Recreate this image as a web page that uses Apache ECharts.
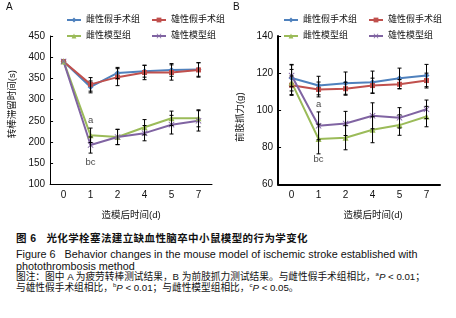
<!DOCTYPE html>
<html>
<head>
<meta charset="utf-8">
<script src="https://cdn.jsdelivr.net/npm/echarts@6/dist/echarts.min.js"></script>
<style>
  body { margin: 0; background: #fff; width: 456px; height: 318px; position: relative; overflow: hidden; }
  #chart-a { position: absolute; left: 0; top: 0; width: 228px; height: 225px; }
  #chart-b { position: absolute; left: 228px; top: 0; width: 228px; height: 225px; }
  .cap { position: absolute; left: 16px; white-space: nowrap; color: #111; line-height: 12px;
         font-family: Arial, "Liberation Sans", "Noto Sans CJK SC", sans-serif; }
  .cap sup { font-size: 6px; vertical-align: 4px; line-height: 0; }
</style>
</head>
<body>
<div id="chart-a"></div>
<div id="chart-b"></div>
<div class="cap" style="top:232px;font-size:10.5px;font-weight:bold;letter-spacing:0.4px">图 6&nbsp;&nbsp;&nbsp;光化学栓塞法建立缺血性脑卒中小鼠模型的行为学变化</div>
<div class="cap" style="top:248px;font-size:10.8px">Figure 6&nbsp;&nbsp;&nbsp;Behavior changes in the mouse model of ischemic stroke established with</div>
<div class="cap" style="top:260px;font-size:10.8px">photothrombosis method</div>
<div class="cap" style="top:271px;font-size:9.7px">图注：图中 A 为疲劳转棒测试结果，B 为前肢抓力测试结果。与雌性假手术组相比，<sup>a</sup><i>P</i> &lt; 0.01；</div>
<div class="cap" style="top:282px;font-size:9.7px">与雄性假手术组相比，<sup>b</sup><i>P</i> &lt; 0.01；与雌性模型组相比，<sup>c</sup><i>P</i> &lt; 0.05。</div>
<script>
var days = ['0', '1', '2', '4', '5', '7'];
var groups = ['雌性假手术组', '雄性假手术组', '雌性模型组', '雄性模型组'];

// A: rotarod time (s)
var femaleShamA = [390, 330, 363, 367, 370, 371];
var maleShamA = [390, 336, 353, 364, 364, 370];
var femaleModelA = [390, 216, 212, 235, 256, 256];
var maleModelA = [390, 193, 212, 221, 241, 250];
var femaleShamErrA = [0, 14, 13, 14, 15, 16];
var maleShamErrA = [0, 16, 20, 17, 18, 17];
var femaleModelErrA = [0, 17, 18, 18, 17, 20];
var maleModelErrA = [0, 19, 18, 18, 22, 24];
var ticksA = [100, 450, 50];
var notesA = [['1', 250, 'a'], ['1', 153, 'bc']];

// B: forelimb grip (g)
var femaleShamB = [117.4, 113.3, 114.6, 115.1, 117.2, 118.7];
var maleShamB = [113.5, 111.2, 111.6, 113.3, 114, 116];
var femaleModelB = [115, 84.5, 85.2, 89.5, 92, 96.6];
var maleModelB = [118.7, 91.6, 92.9, 97, 95.9, 100.5];
var femaleShamErrB = [7, 5, 6, 6, 5.5, 6];
var maleShamErrB = [5, 4, 3.5, 4, 2.5, 4];
var femaleModelErrB = [7, 8, 6.5, 7, 5.5, 5.5];
var maleModelErrB = [6, 7.5, 6.5, 7, 5.5, 5];
var ticksB = [60, 140, 20];
var notesB = [['1', 102.9, 'a'], ['1', 73.5, 'bc']];

var colors = ['#4F81BD', '#C0504D', '#9BBB59', '#8064A2'];
var symbols = ['diamond', 'rect', 'triangle',
  'path://M0,1 L1,0 L5,4 L9,0 L10,1 L6,5 L10,9 L9,10 L5,6 L1,10 L0,9 L4,5Z'];
var symbolSizes = [6, 5, 6, 6];
var font = 'Arial, "Liberation Sans", "Noto Sans CJK SC", sans-serif';

function errRender(params, api) {
	var i = api.value(0);
	var lo = api.coord([i, api.value(1)]);
	var hi = api.coord([i, api.value(2)]);
	if (api.value(1) === api.value(2)) return null;
	var st = { stroke: '#000', lineWidth: 1 };
	return {
		type: 'group',
		children: [
			{ type: 'line', shape: { x1: hi[0], y1: hi[1], x2: lo[0], y2: lo[1] }, style: st },
			{ type: 'line', shape: { x1: hi[0] - 2, y1: hi[1], x2: hi[0] + 2, y2: hi[1] }, style: st },
			{ type: 'line', shape: { x1: lo[0] - 2, y1: lo[1], x2: lo[0] + 2, y2: lo[1] }, style: st }
		]
	};
}

function legendAt(left, names) {
	return {
		left: left,
		top: 10,
		orient: 'vertical',
		data: names,
		itemWidth: 14,
		itemHeight: 6,
		itemGap: 6,
		textStyle: { fontSize: 9, color: '#111', fontFamily: font, lineHeight: 10 }
	};
}

function makeChart(el, means, errs, ticks, notes, yName, yNamePad, xNameShift, axisWidth, legendLefts) {
	var series = [];
	means.forEach(function (m, k) {
		series.push({
			name: groups[k],
			type: 'line',
			data: m,
			color: colors[k],
			symbol: symbols[k],
			symbolSize: symbolSizes[k],
			lineStyle: { width: 2 },
			z: 3
		});
	});
	means.forEach(function (m, k) {
		series.push({
			type: 'custom',
			renderItem: errRender,
			data: m.map(function (v, i) { return [i, v - errs[k][i], v + errs[k][i]]; }),
			silent: true,
			z: 4
		});
	});
	series.push({
		type: 'scatter',
		symbolSize: 1,
		itemStyle: { color: 'rgba(0,0,0,0)' },
		data: notes.map(function (n) { return { value: [n[0], n[1]], text: n[2] }; }),
		label: {
			show: true,
			position: 'inside',
			formatter: function (p) { return p.data.text; },
			fontSize: 9.5,
			fontFamily: font,
			color: '#111'
		},
		silent: true
	});

	var chart = echarts.init(document.getElementById(el));
	chart.setOption({
		animation: false,
		textStyle: { fontFamily: font },
		legend: [
			legendAt(legendLefts[0], [groups[0], groups[2]]),
			legendAt(legendLefts[1], [groups[1], groups[3]])
		],
		grid: { left: 42, right: 16, top: 36, bottom: 39 },
		xAxis: {
			type: 'category',
			data: days,
			name: '造模后时间(d)',
			nameLocation: 'middle',
			nameGap: 26,
			nameTextStyle: { fontSize: 9.5, color: '#111', padding: [0, 0, 0, xNameShift] },
			axisLine: { lineStyle: { color: '#000', width: axisWidth } },
			axisTick: { inside: true, length: 3, lineStyle: { color: '#000' } },
			axisLabel: { fontSize: 10, color: '#111', margin: 6 }
		},
		yAxis: {
			type: 'value',
			min: ticks[0],
			max: ticks[1],
			interval: ticks[2],
			name: yName,
			nameLocation: 'middle',
			nameGap: 25,
			nameTextStyle: { fontSize: 9.5, color: '#111', padding: yNamePad },
			axisLine: { show: true, lineStyle: { color: '#000', width: axisWidth } },
			axisTick: { show: true, inside: true, length: 3, lineStyle: { color: '#000' } },
			axisLabel: { fontSize: 10, color: '#111', margin: 5 },
			splitLine: { show: false }
		},
		series: series,
		graphic: [{
			type: 'text',
			left: el === 'chart-a' ? 6 : 5,
			top: 2,
			style: { text: el === 'chart-a' ? 'A' : 'B', fontSize: 10, fontFamily: font, fill: '#111' }
		}]
	});
	window.addEventListener('resize', function () {
		chart.resize();
	});
}

makeChart('chart-a',
	[femaleShamA, maleShamA, femaleModelA, maleModelA],
	[femaleShamErrA, maleShamErrA, femaleModelErrA, maleModelErrA],
	ticksA, notesA, '转棒滞留时间(s)', [0, 0, 0, 12], 0, 1, [61, 146]);

makeChart('chart-b',
	[femaleShamB, maleShamB, femaleModelB, maleModelB],
	[femaleShamErrB, maleShamErrB, femaleModelErrB, maleModelErrB],
	ticksB, notesB, '前肢抓力(g)', [0, 14, 0, 0], 28, 2, [50, 135]);
</script>
</body>
</html>
